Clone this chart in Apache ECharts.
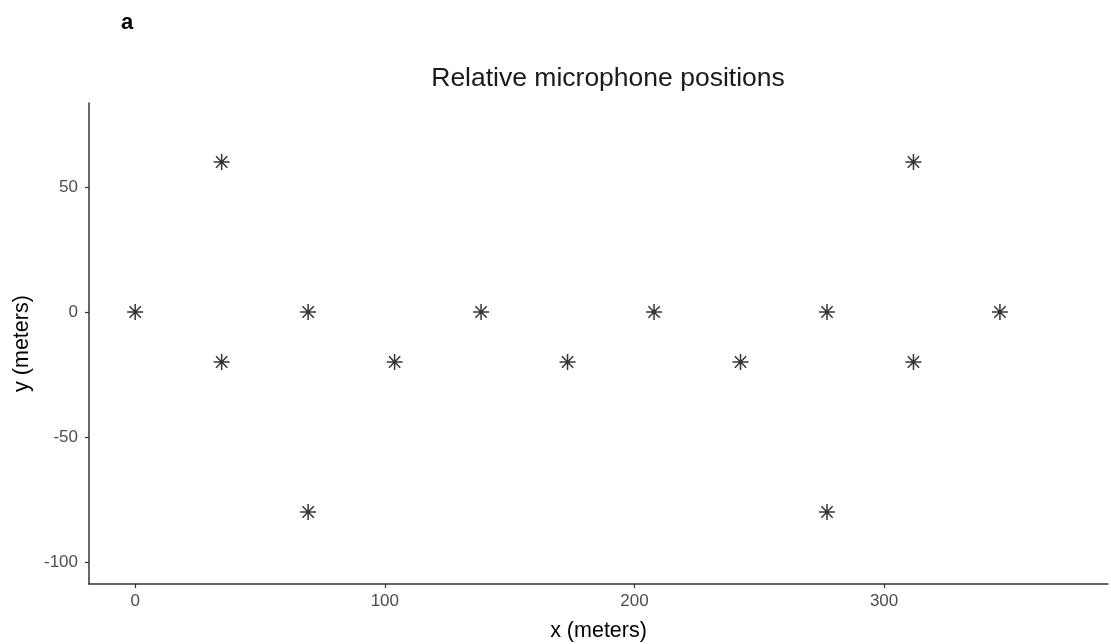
<!DOCTYPE html>
<html>
<head>
<meta charset="utf-8">
<style>
  html, body { margin: 0; padding: 0; background: #fff; }
  #chart { width: 1111px; height: 644px; }
</style>
<script src="https://cdn.jsdelivr.net/npm/echarts@6/dist/echarts.min.js"></script>
</head>
<body>
<div id="chart"></div>
<script>
const FONT = '"Liberation Sans", Arial, sans-serif';

// microphone positions in meters
const micX = [0, 34.64, 34.64, 69.28, 69.28, 103.92, 138.56, 173.2, 207.85, 242.49, 277.13, 277.13, 311.77, 311.77, 346.41];
const micY = [0, 60, -20, 0, -80, -20, 0, -20, 0, -20, 0, -80, 60, -20, 0];
const xTicks = [0, 100, 200, 300];
const yTicks = [-100, -50, 0, 50];

// ggplot shape 8: plus + cross, drawn as strokes
const ASTERISK = "path://M0,-10L0,10M-10,0L10,0M-7.07,-7.07L7.07,7.07M-7.07,7.07L7.07,-7.07";

const chart = echarts.init(document.getElementById("chart"), null, { renderer: "canvas" });

const axisCommon = {
  type: "value",
  axisLine: { show: true, onZero: false, lineStyle: { color: "#333", width: 1.5 } },
  axisTick: { show: true, length: 4, lineStyle: { color: "#333", width: 1.2 } },
  axisLabel: { color: "#4d4d4d", fontSize: 17, fontFamily: FONT },
  splitLine: { show: false },
  nameTextStyle: { color: "#000", fontSize: 21.5, fontFamily: FONT },
};

chart.setOption({
  backgroundColor: "#fff",
  animation: false,
  title: [
    {
      text: "Relative microphone positions",
      left: 603, top: 60, textAlign: "center",
      textStyle: { color: "#1a1a1a", fontSize: 26.5, fontWeight: "normal", fontFamily: FONT },
    },
    {
      text: "a",
      left: 116, top: 7,
      textStyle: { color: "#000", fontSize: 22, fontWeight: "bold", fontFamily: FONT },
    },
  ],
  grid: { left: 89, right: 3, top: 103, bottom: 60, containLabel: false, outerBoundsMode: "none" },
  xAxis: {
    ...axisCommon,
    min: -18.5, max: 389.7,
    name: "x (meters)", nameLocation: "middle", nameGap: 36,
    axisTick: { ...axisCommon.axisTick, customValues: xTicks },
    axisLabel: { ...axisCommon.axisLabel, customValues: xTicks, margin: 9 },
  },
  yAxis: {
    ...axisCommon,
    min: -108.8, max: 83.6,
    name: "y (meters)", nameLocation: "middle", nameGap: 56, nameRotate: 90,
    axisTick: { ...axisCommon.axisTick, customValues: yTicks },
    axisLabel: { ...axisCommon.axisLabel, customValues: yTicks, margin: 11 },
  },
  series: [
    {
      type: "scatter",
      data: micX.map((x, i) => [x, micY[i]]),
      symbol: ASTERISK,
      symbolSize: 16,
      itemStyle: { color: "rgba(0,0,0,0)", borderColor: "#000", borderWidth: 1.5 },
      emphasis: { disabled: true },
    },
  ],
});
</script>
</body>
</html>
